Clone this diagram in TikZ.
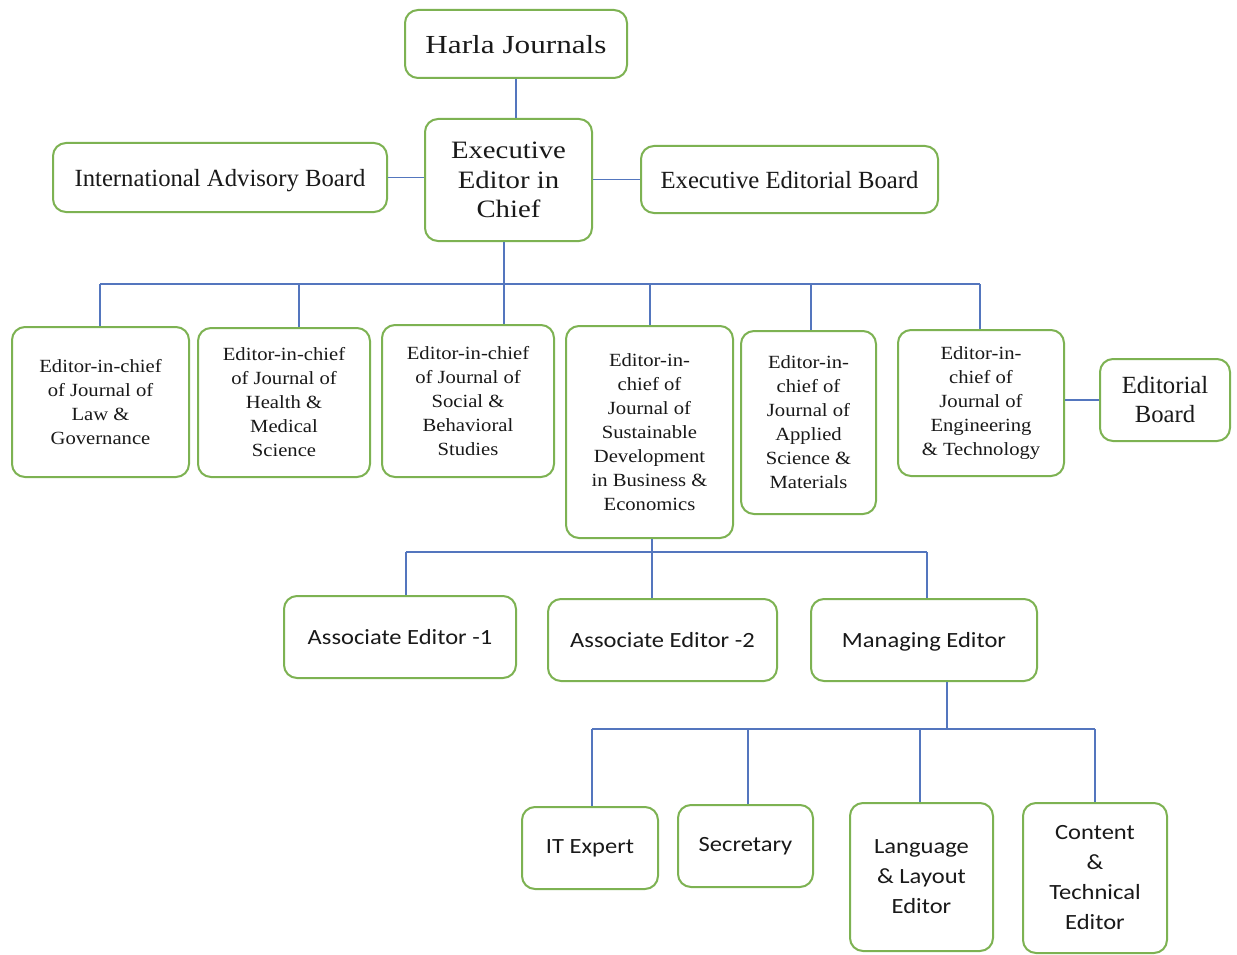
\documentclass[tikz,border=0pt]{standalone}
\usepackage{fontspec}
\setmainfont{Liberation Serif}
\newfontfamily\harlafont{Liberation Serif}[FakeStretch=1.2]
\newfontfamily\eecfont{Liberation Serif}[FakeStretch=1.15]
\newfontfamily\edfont{Liberation Serif}[FakeStretch=1.11]
\newfontfamily\calfont{Carlito}[FakeStretch=1.13]
\definecolor{boxgreen}{RGB}{125,178,82}
\definecolor{linkblue}{RGB}{84,118,190}
\definecolor{ink}{RGB}{25,25,25}
\begin{document}
\begin{tikzpicture}[x=1pt,y=-1pt,
  box/.style={draw=boxgreen, line width=2pt, rounded corners=13pt, fill=white, align=center, inner sep=0pt, text=ink},
  link/.style={draw=linkblue, line width=1.3pt},
  sz/.style 2 args={minimum width=#1pt, minimum height=#2pt},
  big/.style={font={\fontsize{24.7}{29}\selectfont}},
  eecf/.style={font={\eecfont\fontsize{25}{29.3}\selectfont}},
  edf/.style={font={\edfont\fontsize{18.6}{24}\selectfont}},
  calf/.style={font={\calfont\fontsize{21.7}{30}\selectfont}}]
\useasboundingbox (0,0) rectangle (1237,955);
\fill[white] (0,0) rectangle (1237,955);

% top level
\node[box, sz={222}{68}, text depth=0pt, font={\harlafont\fontsize{26}{30}\selectfont}] (harla) at (516,44) {Harla Journals};
\node[box, sz={167}{122}, eecf] (eec) at (508.5,180) {Executive\\Editor in\\Chief};
\node[box, sz={334}{69}, big, text depth=0pt] (iab) at (220,177.5) {International Advisory Board};
\node[box, sz={297}{67}, big, text depth=-2pt] (eeb) at (789.5,179.5) {Executive Editorial Board};

% editors-in-chief
\node[box, sz={177}{150}, edf] (e1) at (100.5,402) {Editor-in-chief\\of Journal of\\Law \&\\Governance};
\node[box, sz={172}{149}, edf] (e2) at (284,402.5) {Editor-in-chief\\of Journal of\\Health \&\\Medical\\Science};
\node[box, sz={172}{152}, edf] (e3) at (468,401) {Editor-in-chief\\of Journal of\\Social \&\\Behavioral\\Studies};
\node[box, sz={167}{212}, edf] (e4) at (649.5,432) {Editor-in-\\chief of\\Journal of\\Sustainable\\Development\\in Business \&\\Economics};
\node[box, sz={135}{183}, edf] (e5) at (808.5,422.5) {Editor-in-\\chief of\\Journal of\\Applied\\Science \&\\Materials};
\node[box, sz={166}{146}, edf] (e6) at (981,403) {Editor-in-\\chief of\\Journal of\\Engineering\\\& Technology};
\node[box, sz={130}{82}, big] (eb) at (1165,400) {Editorial\\Board};

% associate level
\node[box, sz={232}{82}, calf] (a1) at (400,637) {Associate Editor -1};
\node[box, sz={229}{82}, calf] (a2) at (662.5,640) {Associate Editor -2};
\node[box, sz={226}{82}, calf, text depth=0pt] (me) at (924,640) {Managing Editor};

% staff level
\node[box, sz={136}{82}, calf] (it) at (590,848) {IT Expert};
\node[box, sz={135}{82}, calf] (sec) at (745.5,846) {Secretary};
\node[box, sz={143}{148}, calf] (lang) at (921.5,877) {Language\\\& Layout\\Editor};
\node[box, sz={144}{150}, calf] (cont) at (1095,878) {Content\\\&\\Technical\\Editor};

% connectors, top
\draw[link] (harla.south) -- (harla.south |- eec.north);
\draw[link] (iab.east) -- (iab.east -| eec.west);
\draw[link] (eeb.west) -- (eeb.west -| eec.east);

\coordinate (b0) at (504,284);
\coordinate (b1) at (100,284);
\coordinate (b2) at (299,284);
\coordinate (b4) at (650,284);
\coordinate (b5) at (811,284);
\coordinate (b6) at (980,284);
\draw[link] (eec.south -| b0) -- (b0);
\draw[link] (b1) -- (b6);
\draw[link] (b1) -- (e1.north -| b1);
\draw[link] (b2) -- (e2.north -| b2);
\draw[link] (b0) -- (e3.north -| b0);
\draw[link] (b4) -- (e4.north -| b4);
\draw[link] (b5) -- (e5.north -| b5);
\draw[link] (b6) -- (e6.north -| b6);
\draw[link] (eb.west) -- (eb.west -| e6.east);

% connectors, associate level
\coordinate (c0) at (652,552);
\coordinate (c1) at (406,552);
\coordinate (c3) at (927,552);
\draw[link] (e4.south -| c0) -- (c0);
\draw[link] (c1) -- (c3);
\draw[link] (c1) -- (a1.north -| c1);
\draw[link] (c0) -- (a2.north -| c0);
\draw[link] (c3) -- (me.north -| c3);

% connectors, staff level
\coordinate (m0) at (947,729);
\coordinate (m1) at (592,729);
\coordinate (m2) at (748,729);
\coordinate (m3) at (920,729);
\coordinate (m4) at (1095,729);
\draw[link] (me.south -| m0) -- (m0);
\draw[link] (m1) -- (m4);
\draw[link] (m1) -- (it.north -| m1);
\draw[link] (m2) -- (sec.north -| m2);
\draw[link] (m3) -- (lang.north -| m3);
\draw[link] (m4) -- (cont.north -| m4);
\end{tikzpicture}
\end{document}
